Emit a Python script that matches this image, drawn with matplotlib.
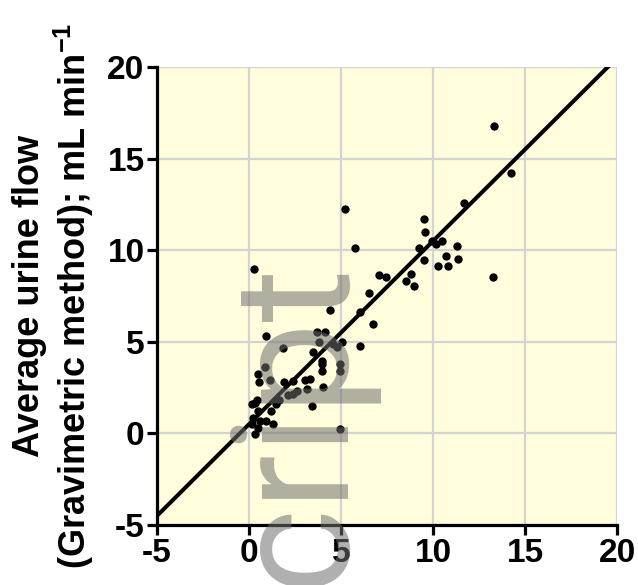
import numpy as np
import matplotlib
matplotlib.use("Agg")
import matplotlib.pyplot as plt

plt.rcParams["font.family"] = ["Liberation Sans", "DejaVu Sans"]
plt.rcParams["axes.unicode_minus"] = False
plt.rcParams["mathtext.fontset"] = "custom"
plt.rcParams["mathtext.bf"] = "Liberation Sans:bold"
plt.rcParams["mathtext.rm"] = "Liberation Sans:bold"

# x: bladder-scan / y: gravimetric flow (mL min-1)
x_flow = [0.27, 0.92, 1.85, 3.70, 4.13, 3.80, 3.48, 4.57, 4.78, 5.05,
          6.03, 4.40, 6.52, 6.03, 6.74, 5.22, 5.76, 7.07, 7.45, 8.80,
          8.53, 8.97, 9.24, 9.51, 9.57, 9.51, 9.95, 10.16, 10.49, 11.30,
          10.71, 10.27, 10.82, 11.36, 11.68, 14.24, 13.32, 13.26, 3.97, 3.97,
          4.95, 4.95, 3.97, 0.87, 0.49, 1.14, 0.54, 1.90, 2.39, 3.04,
          3.32, 4.02, 3.15, 2.61, 2.39, 2.12, 1.63, 1.47, 1.20, 0.43,
          0.33, 0.16, 3.42, 0.49, 0.22, 0.60, 0.92, 1.30, 0.16, 0.49,
          0.33, 4.95]
y_flow = [8.97, 5.33, 4.67, 5.54, 5.54, 5.00, 4.46, 4.89, 4.73, 5.00,
          4.78, 6.74, 7.66, 6.63, 5.98, 12.23, 10.11, 8.64, 8.53, 8.70,
          8.32, 8.04, 10.11, 11.68, 10.98, 9.46, 10.49, 10.33, 10.49, 10.22,
          9.67, 9.13, 9.13, 9.51, 12.55, 14.24, 16.79, 8.53, 3.97, 3.80,
          3.80, 3.42, 3.42, 3.64, 3.26, 2.93, 2.83, 2.83, 2.88, 2.93,
          2.99, 2.55, 2.45, 2.34, 2.17, 2.07, 1.85, 1.58, 1.20, 1.85,
          1.68, 1.58, 1.52, 1.20, 0.82, 0.65, 0.65, 0.49, 0.54, 0.27,
          -0.05, 0.22]

fit_slope = 1.0
fit_intercept = 0.5
ticks = [-5, 0, 5, 10, 15, 20]

fig = plt.figure(figsize=(6.38, 5.85), dpi=100)
ax = fig.add_axes([157 / 638, 1 - 525 / 585, 460 / 638, 458 / 585])
ax.set_facecolor("#FFFDDC")

ax.set_xlim(-5, 20)
ax.set_ylim(-5, 20)
ax.set_xticks(ticks)
ax.set_yticks(ticks)
ax.grid(True, color="#D3D3D3", linewidth=1.6, zorder=0)
ax.set_axisbelow(True)

xl = np.array([-5, 20])
ax.plot(xl, fit_slope * xl + fit_intercept, color="black", linewidth=2.9,
        zorder=3, clip_on=True, solid_capstyle="butt")
ax.scatter(x_flow, y_flow, s=36, color="black", zorder=4, linewidths=0)

for side in ["top", "right"]:
    ax.spines[side].set_visible(False)
for side in ["left", "bottom"]:
    ax.spines[side].set_linewidth(2.3)
ax.tick_params(direction="out", length=7, width=2.3, labelsize=24, pad=2)
for lab in ax.get_xticklabels() + ax.get_yticklabels():
    lab.set_fontweight("bold")

ax.set_ylabel("Average urine flow\n(Gravimetric method); mL min$^{\\mathbf{-1}}$",
              fontsize=26, fontweight="bold", labelpad=8, linespacing=1.15)

# watermark fragment
fig.text(296 / 638, 1 - 424 / 585, "cript", rotation=90, fontsize=118,
         family="Roboto", fontweight="normal", color="#6e6e6e", alpha=0.55,
         ha="center", va="center", zorder=10)

fig.savefig("out.png", dpi=100)
